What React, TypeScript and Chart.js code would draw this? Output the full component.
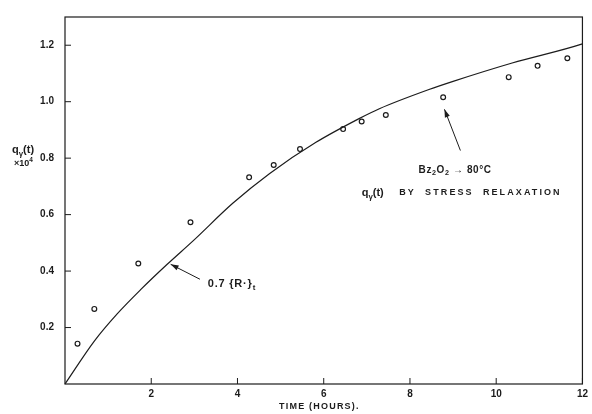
import React, { useEffect, useRef } from 'react';
import { Chart, registerables } from 'chart.js';

Chart.register(...registerables);

// Curve 0.7{R·}t  (hours, value x10^4)
const curveX = [0, 0.68, 1.22, 1.76, 2.37, 2.97, 3.89, 4.74, 5.82, 6.82, 7.29, 8.44, 9.0, 10.37, 12.0, 12.14];
const curveY = [0, 0.152, 0.25, 0.335, 0.424, 0.507, 0.64, 0.745, 0.856, 0.94, 0.975, 1.043, 1.072, 1.137, 1.205, 1.213];

// q(t) by stress relaxation (open circles)
const pointX = [0.29, 0.68, 1.7, 2.91, 4.27, 4.84, 5.45, 6.45, 6.88, 7.44, 8.77, 10.29, 10.96, 11.65];
const pointY = [0.143, 0.266, 0.427, 0.573, 0.732, 0.776, 0.832, 0.903, 0.93, 0.953, 1.016, 1.087, 1.127, 1.154];

const xTicks = [2, 4, 6, 8, 10, 12];
const xTickLabels = ['2', '4', '6', '8', '10', '12'];
const yTicks = [0.2, 0.4, 0.6, 0.8, 1.0, 1.2];
const yTickLabels = ['0.2', '0.4', '0.6', '0.8', '1.0', '1.2'];

const INK = '#1c1c1c';
const FONT = '"Liberation Sans", Arial, sans-serif';

type Seg = { t: string; sub?: boolean; sup?: boolean };

function drawSegs(ctx: CanvasRenderingContext2D, segs: Seg[], x: number, y: number, size: number, spacing = 0) {
  let cx = x;
  for (const s of segs) {
    const sz = s.sub || s.sup ? size * 0.72 : size;
    ctx.font = `bold ${sz}px ${FONT}`;
    (ctx as any).letterSpacing = `${spacing}px`;
    const dy = s.sub ? size * 0.35 : s.sup ? -size * 0.45 : 0;
    ctx.fillText(s.t, cx, y + dy);
    cx += ctx.measureText(s.t).width;
  }
  (ctx as any).letterSpacing = '0px';
}

function arrow(ctx: CanvasRenderingContext2D, x1: number, y1: number, x2: number, y2: number) {
  ctx.beginPath();
  ctx.moveTo(x1, y1);
  ctx.lineTo(x2, y2);
  ctx.stroke();
  const a = Math.atan2(y2 - y1, x2 - x1);
  const L = 8, W = 2.6;
  ctx.beginPath();
  ctx.moveTo(x2, y2);
  ctx.lineTo(x2 - L * Math.cos(a) + W * Math.sin(a), y2 - L * Math.sin(a) - W * Math.cos(a));
  ctx.lineTo(x2 - L * Math.cos(a) - W * Math.sin(a), y2 - L * Math.sin(a) + W * Math.cos(a));
  ctx.closePath();
  ctx.fill();
}

const decor = {
  id: 'decor',
  afterDraw(chart: any) {
    const { ctx, chartArea: ca } = chart;
    const xs = chart.scales.x;
    const ys = chart.scales.y;
    const px = (v: number) => xs.getPixelForValue(v);
    const py = (v: number) => ys.getPixelForValue(v);
    ctx.save();
    ctx.strokeStyle = INK;
    ctx.fillStyle = INK;
    ctx.lineWidth = 1.2;
    // frame
    ctx.strokeRect(ca.left, ca.top, ca.right - ca.left, ca.bottom - ca.top);
    // inside tick marks
    ctx.lineWidth = 1;
    for (const t of xTicks) {
      ctx.beginPath();
      ctx.moveTo(px(t), ca.bottom);
      ctx.lineTo(px(t), ca.bottom - 6);
      ctx.stroke();
    }
    for (const t of yTicks) {
      ctx.beginPath();
      ctx.moveTo(ca.left, py(t));
      ctx.lineTo(ca.left + 6, py(t));
      ctx.stroke();
    }
    ctx.textBaseline = 'middle';
    ctx.textAlign = 'left';
    // y-axis title
    drawSegs(ctx, [{ t: 'q' }, { t: 'γ', sub: true }, { t: '(t)' }], 12, 150, 11);
    drawSegs(ctx, [{ t: '×10' }, { t: '4', sup: true }], 14, 164, 9);
    // x-axis title
    ctx.textAlign = 'center';
    ctx.font = `bold 9px ${FONT}`;
    (ctx as any).letterSpacing = '1.2px';
    ctx.fillText('TIME (HOURS).', px(5.9), 407);
    (ctx as any).letterSpacing = '0px';
    ctx.textAlign = 'left';
    // annotations
    ctx.lineWidth = 1;
    arrow(ctx, px(3.13), py(0.371), px(2.45), py(0.424));
    drawSegs(ctx, [{ t: '0.7 {R·}' }, { t: 't', sub: true }], px(3.31), py(0.354), 11, 0.8);
    arrow(ctx, px(9.17), py(0.827), px(8.8), py(0.973));
    drawSegs(ctx, [{ t: 'Bz' }, { t: '2', sub: true }, { t: 'O' }, { t: '2', sub: true }, { t: ' → 80°C' }], px(8.2), py(0.758), 10, 0.6);
    drawSegs(ctx, [{ t: 'q' }, { t: 'γ', sub: true }, { t: '(t)' }], px(6.88), py(0.677), 11);
    drawSegs(ctx, [{ t: 'BY  STRESS  RELAXATION' }], px(7.75), py(0.677), 9, 2.1);
    ctx.restore();
  },
};

export default function App() {
  const ref = useRef<HTMLCanvasElement | null>(null);
  useEffect(() => {
    if (!ref.current) return;
    const chart = new Chart(ref.current, {
      type: 'scatter',
      data: {
        datasets: [
          {
            label: '0.7{R·}t',
            data: curveX.map((x, i) => ({ x, y: curveY[i] })),
            showLine: true,
            borderColor: INK,
            borderWidth: 1.2,
            pointRadius: 0,
            cubicInterpolationMode: 'monotone',
            clip: false as any,
          },
          {
            label: 'q(t)',
            data: pointX.map((x, i) => ({ x, y: pointY[i] })),
            showLine: false,
            pointStyle: 'circle',
            pointRadius: 2.4,
            borderWidth: 1.2,
            borderColor: INK,
            backgroundColor: '#ffffff',
          },
        ],
      },
      options: {
        responsive: false,
        animation: false,
        devicePixelRatio: 1,
        layout: { padding: { left: 0, right: 8, top: 13, bottom: 0 } },
        plugins: { legend: { display: false }, tooltip: { enabled: false }, title: { display: false } },
        scales: {
          x: {
            type: 'linear',
            min: 0,
            max: 12,
            afterBuildTicks: (s: any) => { s.ticks = xTicks.map((v) => ({ value: v })); },
            afterFit: (s: any) => { s.height = 30; },
            grid: { display: false, drawTicks: false },
            border: { display: false },
            ticks: {
              padding: 4,
              color: INK,
              font: { family: FONT, size: 10, weight: 'bold' },
              callback: (_v: any, i: number) => xTickLabels[i],
              maxRotation: 0,
              autoSkip: false,
            },
          },
          y: {
            type: 'linear',
            min: 0,
            max: 1.3,
            afterBuildTicks: (s: any) => { s.ticks = yTicks.map((v) => ({ value: v })); },
            afterFit: (s: any) => { s.width = 65; },
            grid: { display: false, drawTicks: false },
            border: { display: false },
            ticks: {
              padding: 11,
              color: INK,
              font: { family: FONT, size: 10, weight: 'bold' },
              callback: (_v: any, i: number) => yTickLabels[i],
              autoSkip: false,
            },
          },
        },
      },
      plugins: [decor],
    });
    return () => chart.destroy();
  }, []);
  return (
    <div style={{ position: 'absolute', left: 0, top: 0, width: 592, height: 414, background: '#fff' }}>
      <canvas ref={ref} width={592} height={414} />
    </div>
  );
}
